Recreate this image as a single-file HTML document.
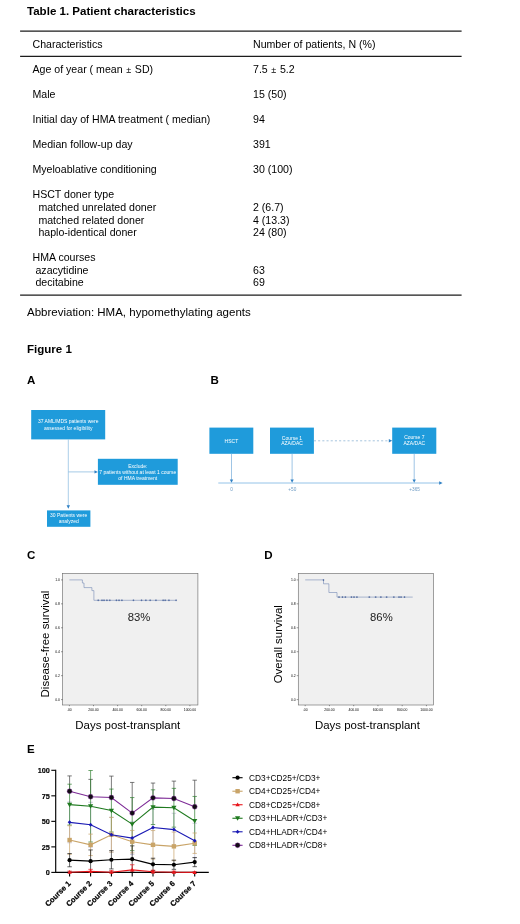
<!DOCTYPE html>
<html><head><meta charset="utf-8">
<style>
html,body{margin:0;padding:0;background:#fff;}
body{width:520px;height:924px;position:relative;overflow:hidden;will-change:transform;font-family:"Liberation Sans",sans-serif;color:#000;}
.t{position:absolute;white-space:pre;font-size:10.6px;line-height:13px;}
.b{font-weight:bold;}
.hl{position:absolute;left:20px;width:441.5px;height:1.4px;background:#1a1a1a;}
svg{position:absolute;left:0;top:0;}
</style></head><body>
<div class="t b" id='title' style="left:27px;top:4.50px;font-size:11.55px;">Table 1. Patient characteristics</div>
<div class="t" id='l0' style="left:32.5px;top:37.83px;font-size:10.6px;">Characteristics</div>
<div class="t" id='r0' style="left:253px;top:37.83px;font-size:10.6px;">Number of patients, N (%)</div>
<div class="t" id='l1' style="left:32.5px;top:62.83px;font-size:10.6px;">Age of year ( mean <span style="font-size:9px;margin:0 0.7px;position:relative;top:0.6px">±</span> SD)</div>
<div class="t" id='r1' style="left:253px;top:62.83px;font-size:10.6px;">7.5 <span style="font-size:9px;margin:0 0.7px;position:relative;top:0.6px">±</span> 5.2</div>
<div class="t" id='l2' style="left:32.5px;top:87.83px;font-size:10.6px;">Male</div>
<div class="t" id='r2' style="left:253px;top:87.83px;font-size:10.6px;">15 (50)</div>
<div class="t" id='l3' style="left:32.5px;top:112.83px;font-size:10.6px;">Initial day of HMA treatment ( median)</div>
<div class="t" id='r3' style="left:253px;top:112.83px;font-size:10.6px;">94</div>
<div class="t" id='l4' style="left:32.5px;top:137.83px;font-size:10.6px;">Median follow-up day</div>
<div class="t" id='r4' style="left:253px;top:137.83px;font-size:10.6px;">391</div>
<div class="t" id='l5' style="left:32.5px;top:162.83px;font-size:10.6px;">Myeloablative conditioning</div>
<div class="t" id='r5' style="left:253px;top:162.83px;font-size:10.6px;">30 (100)</div>
<div class="t" id='l6' style="left:32.5px;top:187.83px;font-size:10.6px;">HSCT doner type</div>
<div class="t" id='l7' style="left:32.5px;top:201.03px;font-size:10.6px;">&nbsp;&nbsp;matched unrelated doner</div>
<div class="t" id='r7' style="left:253px;top:201.03px;font-size:10.6px;">2 (6.7)</div>
<div class="t" id='l8' style="left:32.5px;top:213.63px;font-size:10.6px;">&nbsp;&nbsp;matched related doner</div>
<div class="t" id='r8' style="left:253px;top:213.63px;font-size:10.6px;">4 (13.3)</div>
<div class="t" id='l9' style="left:32.5px;top:226.13px;font-size:10.6px;">&nbsp;&nbsp;haplo-identical doner</div>
<div class="t" id='r9' style="left:253px;top:226.13px;font-size:10.6px;">24 (80)</div>
<div class="t" id='l10' style="left:32.5px;top:250.93px;font-size:10.6px;">HMA courses</div>
<div class="t" id='l11' style="left:32.5px;top:263.53px;font-size:10.6px;">&nbsp;azacytidine</div>
<div class="t" id='r11' style="left:253px;top:263.53px;font-size:10.6px;">63</div>
<div class="t" id='l12' style="left:32.5px;top:276.13px;font-size:10.6px;">&nbsp;decitabine</div>
<div class="t" id='r12' style="left:253px;top:276.13px;font-size:10.6px;">69</div>
<div class="t" id='abbr' style="left:27px;top:305.72px;font-size:11.5px;">Abbreviation: HMA, hypomethylating agents</div>
<div class="t b" id='fig' style="left:27px;top:342.50px;font-size:11.55px;">Figure 1</div>
<svg width="520" height="924" viewBox="0 0 520 924" font-family="Liberation Sans, sans-serif">
<text x="27" y="384" font-size="11.55" font-weight="bold" fill="#000">A</text>
<text x="210.5" y="384" font-size="11.55" font-weight="bold" fill="#000">B</text>
<text x="27" y="559" font-size="11.55" font-weight="bold" fill="#000">C</text>
<text x="264.2" y="559" font-size="11.55" font-weight="bold" fill="#000">D</text>
<text x="27" y="752.6" font-size="11.55" font-weight="bold" fill="#000">E</text>
<rect x="31.2" y="410" width="74.00" height="29.40" fill="#1f9bdb"/>
<text x="68.2" y="423.30" font-size="5.0" text-anchor="middle" fill="#fff">37 AML/MDS patients were</text>
<text x="68.2" y="429.60" font-size="5.0" text-anchor="middle" fill="#fff">assessed for eligibility</text>
<rect x="97.9" y="458.8" width="79.80" height="26.00" fill="#1f9bdb"/>
<text x="137.8" y="467.90" font-size="5.0" text-anchor="middle" fill="#fff">Exclude:</text>
<text x="137.8" y="473.80" font-size="5.0" text-anchor="middle" fill="#fff">7 patients without at least 1 course</text>
<text x="137.8" y="479.80" font-size="5.0" text-anchor="middle" fill="#fff">of HMA treatment</text>
<rect x="47" y="510.4" width="43.40" height="16.40" fill="#1f9bdb"/>
<text x="68.7" y="517.00" font-size="5.0" text-anchor="middle" fill="#fff">30 Patients were</text>
<text x="68.7" y="522.80" font-size="5.0" text-anchor="middle" fill="#fff">analyzed</text>
<line x1="68.3" y1="439.4" x2="68.3" y2="506.2" stroke="#8fbde0" stroke-width="0.75"/>
<path d="M66.6 505.3L70.0 505.3L68.3 508.7Z" fill="#2f80c4"/>
<line x1="68.3" y1="471.9" x2="95.4" y2="471.9" stroke="#8fbde0" stroke-width="0.8"/>
<path d="M94.5 470.2L94.5 473.59999999999997L97.9 471.9Z" fill="#2f80c4"/>
<rect x="209.4" y="427.6" width="43.90" height="26.20" fill="#1f9bdb"/>
<text x="231.4" y="442.60" font-size="5.0" text-anchor="middle" fill="#fff">HSCT</text>
<rect x="270" y="427.6" width="43.90" height="26.20" fill="#1f9bdb"/>
<text x="292" y="439.60" font-size="5.0" text-anchor="middle" fill="#fff">Course 1</text>
<text x="292" y="445.10" font-size="5.0" text-anchor="middle" fill="#fff">AZA/DAC</text>
<rect x="392.2" y="427.6" width="44.10" height="26.20" fill="#1f9bdb"/>
<text x="414.3" y="439.20" font-size="5.0" text-anchor="middle" fill="#fff">Course 7</text>
<text x="414.3" y="445.00" font-size="5.0" text-anchor="middle" fill="#fff">AZA/DAC</text>
<line x1="218.3" y1="483.0" x2="440.1" y2="483.0" stroke="#78b4e2" stroke-width="0.8"/>
<path d="M439.20000000000005 481.3L439.20000000000005 484.7L442.6 483.0Z" fill="#2f80c4"/>
<line x1="231.5" y1="453.8" x2="231.5" y2="480.3" stroke="#7fb2dc" stroke-width="0.75"/>
<path d="M229.8 479.40000000000003L233.2 479.40000000000003L231.5 482.8Z" fill="#2f80c4"/>
<line x1="292.1" y1="453.8" x2="292.1" y2="480.3" stroke="#7fb2dc" stroke-width="0.75"/>
<path d="M290.40000000000003 479.40000000000003L293.8 479.40000000000003L292.1 482.8Z" fill="#2f80c4"/>
<line x1="414.2" y1="453.8" x2="414.2" y2="480.3" stroke="#7fb2dc" stroke-width="0.75"/>
<path d="M412.5 479.40000000000003L415.9 479.40000000000003L414.2 482.8Z" fill="#2f80c4"/>
<line x1="313.9" y1="440.8" x2="389.7" y2="440.8" stroke="#8fb6d6" stroke-width="0.8" stroke-dasharray="2.1 2.1"/>
<path d="M388.8 439.1L388.8 442.5L392.2 440.8Z" fill="#2f80c4"/>
<text x="231.5" y="490.89" font-size="4.7" text-anchor="middle" fill="#6f9cc4">0</text>
<text x="292.3" y="490.89" font-size="4.7" text-anchor="middle" fill="#6f9cc4">+50</text>
<text x="414.6" y="490.89" font-size="4.7" text-anchor="middle" fill="#6f9cc4">+365</text>
<rect x="62.6" y="573.4" width="135.30" height="131.60" fill="#f0f0f0" stroke="#6e6e6e" stroke-width="0.65"/>
<line x1="61.0" y1="579.90" x2="62.6" y2="579.90" stroke="#333" stroke-width="0.5"/>
<text x="60.0" y="581.05" font-size="3.4" text-anchor="end" fill="#000">1.0</text>
<line x1="61.0" y1="603.84" x2="62.6" y2="603.84" stroke="#333" stroke-width="0.5"/>
<text x="60.0" y="604.99" font-size="3.4" text-anchor="end" fill="#000">0.8</text>
<line x1="61.0" y1="627.78" x2="62.6" y2="627.78" stroke="#333" stroke-width="0.5"/>
<text x="60.0" y="628.93" font-size="3.4" text-anchor="end" fill="#000">0.6</text>
<line x1="61.0" y1="651.72" x2="62.6" y2="651.72" stroke="#333" stroke-width="0.5"/>
<text x="60.0" y="652.87" font-size="3.4" text-anchor="end" fill="#000">0.4</text>
<line x1="61.0" y1="675.66" x2="62.6" y2="675.66" stroke="#333" stroke-width="0.5"/>
<text x="60.0" y="676.81" font-size="3.4" text-anchor="end" fill="#000">0.2</text>
<line x1="61.0" y1="699.60" x2="62.6" y2="699.60" stroke="#333" stroke-width="0.5"/>
<text x="60.0" y="700.75" font-size="3.4" text-anchor="end" fill="#000">0.0</text>
<line x1="69.40" y1="705.0" x2="69.40" y2="706.2" stroke="#333" stroke-width="0.5"/>
<text x="69.40" y="711.20" font-size="3.4" text-anchor="middle" fill="#000">.00</text>
<line x1="93.50" y1="705.0" x2="93.50" y2="706.2" stroke="#333" stroke-width="0.5"/>
<text x="93.50" y="711.20" font-size="3.4" text-anchor="middle" fill="#000">200.00</text>
<line x1="117.60" y1="705.0" x2="117.60" y2="706.2" stroke="#333" stroke-width="0.5"/>
<text x="117.60" y="711.20" font-size="3.4" text-anchor="middle" fill="#000">400.00</text>
<line x1="141.70" y1="705.0" x2="141.70" y2="706.2" stroke="#333" stroke-width="0.5"/>
<text x="141.70" y="711.20" font-size="3.4" text-anchor="middle" fill="#000">600.00</text>
<line x1="165.80" y1="705.0" x2="165.80" y2="706.2" stroke="#333" stroke-width="0.5"/>
<text x="165.80" y="711.20" font-size="3.4" text-anchor="middle" fill="#000">800.00</text>
<line x1="189.90" y1="705.0" x2="189.90" y2="706.2" stroke="#333" stroke-width="0.5"/>
<text x="189.90" y="711.20" font-size="3.4" text-anchor="middle" fill="#000">1000.00</text>
<path d="M69.4 579.9H82.4V583.0H84.0V587.6H91.9V590.6H93.9V600.3H176.2" fill="none" stroke="#7389b6" stroke-width="0.6"/>
<path d="M97.36507066628208 600.3H99.16507066628209M98.26507066628209 599.4V601.1999999999999" stroke="#34508f" stroke-width="0.55"/>
<path d="M101.11471012402653 600.3H102.91471012402654M102.01471012402654 599.4V601.1999999999999" stroke="#34508f" stroke-width="0.55"/>
<path d="M103.13374675511969 600.3H104.9337467551197M104.0337467551197 599.4V601.1999999999999" stroke="#34508f" stroke-width="0.55"/>
<path d="M106.0180847995385 600.3H107.81808479953851M106.9180847995385 599.4V601.1999999999999" stroke="#34508f" stroke-width="0.55"/>
<path d="M108.90242284395731 600.3H110.70242284395732M109.80242284395732 599.4V601.1999999999999" stroke="#34508f" stroke-width="0.55"/>
<path d="M115.53640034612056 600.3H117.33640034612057M116.43640034612056 599.4V601.1999999999999" stroke="#34508f" stroke-width="0.55"/>
<path d="M118.13230458609749 600.3H119.9323045860975M119.0323045860975 599.4V601.1999999999999" stroke="#34508f" stroke-width="0.55"/>
<path d="M121.01664263051629 600.3H122.8166426305163M121.9166426305163 599.4V601.1999999999999" stroke="#34508f" stroke-width="0.55"/>
<path d="M132.5539948081915 600.3H134.35399480819152M133.4539948081915 599.4V601.1999999999999" stroke="#34508f" stroke-width="0.55"/>
<path d="M140.63014133256416 600.3H142.43014133256418M141.53014133256417 599.4V601.1999999999999" stroke="#34508f" stroke-width="0.55"/>
<path d="M144.95664839919237 600.3H146.7566483991924M145.85664839919238 599.4V601.1999999999999" stroke="#34508f" stroke-width="0.55"/>
<path d="M149.28315546582058 600.3H151.0831554658206M150.1831554658206 599.4V601.1999999999999" stroke="#34508f" stroke-width="0.55"/>
<path d="M155.0518315546582 600.3H156.85183155465822M155.9518315546582 599.4V601.1999999999999" stroke="#34508f" stroke-width="0.55"/>
<path d="M162.26267666570521 600.3H164.06267666570523M163.16267666570522 599.4V601.1999999999999" stroke="#34508f" stroke-width="0.55"/>
<path d="M164.28171329679836 600.3H166.08171329679837M165.18171329679836 599.4V601.1999999999999" stroke="#34508f" stroke-width="0.55"/>
<path d="M168.03135275454284 600.3H169.83135275454285M168.93135275454284 599.4V601.1999999999999" stroke="#34508f" stroke-width="0.55"/>
<path d="M175.24219786558984 600.3H177.04219786558986M176.14219786558985 599.4V601.1999999999999" stroke="#34508f" stroke-width="0.55"/>
<text transform="translate(48.8 644) rotate(-90)" font-size="11.45" text-anchor="middle" fill="#000">Disease-free survival</text>
<text x="127.8" y="729" font-size="11.45" text-anchor="middle" fill="#000">Days post-transplant</text>
<text x="139.1" y="620.8" font-size="11.3" text-anchor="middle" fill="#222">83%</text>
<rect x="298.3" y="573.4" width="135.10" height="131.60" fill="#f0f0f0" stroke="#6e6e6e" stroke-width="0.65"/>
<line x1="296.7" y1="579.90" x2="298.3" y2="579.90" stroke="#333" stroke-width="0.5"/>
<text x="295.7" y="581.05" font-size="3.4" text-anchor="end" fill="#000">1.0</text>
<line x1="296.7" y1="603.84" x2="298.3" y2="603.84" stroke="#333" stroke-width="0.5"/>
<text x="295.7" y="604.99" font-size="3.4" text-anchor="end" fill="#000">0.8</text>
<line x1="296.7" y1="627.78" x2="298.3" y2="627.78" stroke="#333" stroke-width="0.5"/>
<text x="295.7" y="628.93" font-size="3.4" text-anchor="end" fill="#000">0.6</text>
<line x1="296.7" y1="651.72" x2="298.3" y2="651.72" stroke="#333" stroke-width="0.5"/>
<text x="295.7" y="652.87" font-size="3.4" text-anchor="end" fill="#000">0.4</text>
<line x1="296.7" y1="675.66" x2="298.3" y2="675.66" stroke="#333" stroke-width="0.5"/>
<text x="295.7" y="676.81" font-size="3.4" text-anchor="end" fill="#000">0.2</text>
<line x1="296.7" y1="699.60" x2="298.3" y2="699.60" stroke="#333" stroke-width="0.5"/>
<text x="295.7" y="700.75" font-size="3.4" text-anchor="end" fill="#000">0.0</text>
<line x1="305.20" y1="705.0" x2="305.20" y2="706.2" stroke="#333" stroke-width="0.5"/>
<text x="305.20" y="711.20" font-size="3.4" text-anchor="middle" fill="#000">.00</text>
<line x1="329.45" y1="705.0" x2="329.45" y2="706.2" stroke="#333" stroke-width="0.5"/>
<text x="329.45" y="711.20" font-size="3.4" text-anchor="middle" fill="#000">200.00</text>
<line x1="353.70" y1="705.0" x2="353.70" y2="706.2" stroke="#333" stroke-width="0.5"/>
<text x="353.70" y="711.20" font-size="3.4" text-anchor="middle" fill="#000">400.00</text>
<line x1="377.95" y1="705.0" x2="377.95" y2="706.2" stroke="#333" stroke-width="0.5"/>
<text x="377.95" y="711.20" font-size="3.4" text-anchor="middle" fill="#000">600.00</text>
<line x1="402.20" y1="705.0" x2="402.20" y2="706.2" stroke="#333" stroke-width="0.5"/>
<text x="402.20" y="711.20" font-size="3.4" text-anchor="middle" fill="#000">800.00</text>
<line x1="426.45" y1="705.0" x2="426.45" y2="706.2" stroke="#333" stroke-width="0.5"/>
<text x="426.45" y="711.20" font-size="3.4" text-anchor="middle" fill="#000">1000.00</text>
<path d="M305.2 579.9H323.5V583.8H328.9V592.5H337.0V597.1H412.7" fill="none" stroke="#7389b6" stroke-width="0.6"/>
<path d="M322.6 580.0H324.4M323.5 579.1V580.9" stroke="#34508f" stroke-width="0.55"/>
<path d="M338.1337467551197 597.1H339.93374675511967M339.0337467551197 596.2V598.0" stroke="#34508f" stroke-width="0.55"/>
<path d="M341.5949524084223 597.1H343.3949524084222M342.49495240842225 596.2V598.0" stroke="#34508f" stroke-width="0.55"/>
<path d="M344.4792904528411 597.1H346.27929045284105M345.3792904528411 596.2V598.0" stroke="#34508f" stroke-width="0.55"/>
<path d="M350.53640034612056 597.1H352.3364003461205M351.43640034612054 596.2V598.0" stroke="#34508f" stroke-width="0.55"/>
<path d="M353.1323045860975 597.1H354.9323045860975M354.0323045860975 596.2V598.0" stroke="#34508f" stroke-width="0.55"/>
<path d="M356.01664263051634 597.1H357.8166426305163M356.9166426305163 596.2V598.0" stroke="#34508f" stroke-width="0.55"/>
<path d="M368.4192962215172 597.1H370.21929622151714M369.31929622151716 596.2V598.0" stroke="#34508f" stroke-width="0.55"/>
<path d="M374.76483991923857 597.1H376.5648399192385M375.66483991923855 596.2V598.0" stroke="#34508f" stroke-width="0.55"/>
<path d="M379.95664839919243 597.1H381.7566483991924M380.8566483991924 596.2V598.0" stroke="#34508f" stroke-width="0.55"/>
<path d="M385.72532448803 597.1H387.52532448803M386.62532448803 596.2V598.0" stroke="#34508f" stroke-width="0.55"/>
<path d="M392.93616959907706 597.1H394.736169599077M393.83616959907704 596.2V598.0" stroke="#34508f" stroke-width="0.55"/>
<path d="M398.12797807903087 597.1H399.9279780790308M399.02797807903085 596.2V598.0" stroke="#34508f" stroke-width="0.55"/>
<path d="M400.14701471012404 597.1H401.947014710124M401.047014710124 596.2V598.0" stroke="#34508f" stroke-width="0.55"/>
<path d="M403.6082203634266 597.1H405.40822036342655M404.5082203634266 596.2V598.0" stroke="#34508f" stroke-width="0.55"/>
<text transform="translate(281.5 644.2) rotate(-90)" font-size="11.45" text-anchor="middle" fill="#000">Overall survival</text>
<text x="367.4" y="729" font-size="11.45" text-anchor="middle" fill="#000">Days post-transplant</text>
<text x="381.4" y="620.8" font-size="11.3" text-anchor="middle" fill="#222">86%</text>
<path d="M67.39999999999999 801.95H71.8M69.6 801.95V842.79M67.39999999999999 842.79H71.8" stroke="#b9b9d2" stroke-width="0.7" fill="none"/>
<path d="M88.39999999999999 802.26H92.8M90.6 802.26V847.18M88.39999999999999 847.18H92.8" stroke="#b9b9d2" stroke-width="0.7" fill="none"/>
<path d="M109.2 817.37H113.60000000000001M111.4 817.37V852.08M109.2 852.08H113.60000000000001" stroke="#b9b9d2" stroke-width="0.7" fill="none"/>
<path d="M130.0 821.76H134.39999999999998M132.2 821.76V854.43M130.0 854.43H134.39999999999998" stroke="#b9b9d2" stroke-width="0.7" fill="none"/>
<path d="M150.8 809.10H155.2M153.0 809.10V845.85M150.8 845.85H155.2" stroke="#b9b9d2" stroke-width="0.7" fill="none"/>
<path d="M171.70000000000002 813.28H176.1M173.9 813.28V845.96M171.70000000000002 845.96H176.1" stroke="#b9b9d2" stroke-width="0.7" fill="none"/>
<path d="M192.5 823.29H196.89999999999998M194.7 823.29V858.00M192.5 858.00H196.89999999999998" stroke="#b9b9d2" stroke-width="0.7" fill="none"/>
<path d="M67.39999999999999 775.92H71.8M69.6 775.92V791.23" stroke="#444" stroke-width="0.7" fill="none"/>
<path d="M88.39999999999999 779.39H92.8M90.6 779.39V796.74" stroke="#444" stroke-width="0.7" fill="none"/>
<path d="M109.2 776.12H113.60000000000001M111.4 776.12V797.56" stroke="#444" stroke-width="0.7" fill="none"/>
<path d="M130.0 782.45H134.39999999999998M132.2 782.45V813.08" stroke="#444" stroke-width="0.7" fill="none"/>
<path d="M150.8 783.06H155.2M153.0 783.06V797.87" stroke="#444" stroke-width="0.7" fill="none"/>
<path d="M171.70000000000002 781.12H176.1M173.9 781.12V798.48" stroke="#444" stroke-width="0.7" fill="none"/>
<path d="M192.5 780.20H196.89999999999998M194.7 780.20V806.75" stroke="#444" stroke-width="0.7" fill="none"/>
<path d="M67.39999999999999 784.19H71.8M69.6 784.19V825.03M67.39999999999999 825.03H71.8" stroke="#2f7f2f" stroke-width="0.7" fill="none"/>
<path d="M88.39999999999999 770.50H92.8M90.6 770.50V841.97M88.39999999999999 841.97H92.8" stroke="#2f7f2f" stroke-width="0.7" fill="none"/>
<path d="M109.2 789.09H113.60000000000001M111.4 789.09V831.97M109.2 831.97H113.60000000000001" stroke="#2f7f2f" stroke-width="0.7" fill="none"/>
<path d="M130.0 797.56H134.39999999999998M132.2 797.56V850.65M130.0 850.65H134.39999999999998" stroke="#2f7f2f" stroke-width="0.7" fill="none"/>
<path d="M150.8 789.80H155.2M153.0 789.80V824.52M150.8 824.52H155.2" stroke="#2f7f2f" stroke-width="0.7" fill="none"/>
<path d="M171.70000000000002 788.37H176.1M173.9 788.37V827.17M171.70000000000002 827.17H176.1" stroke="#2f7f2f" stroke-width="0.7" fill="none"/>
<path d="M192.5 796.44H196.89999999999998M194.7 796.44V845.45M192.5 845.45H196.89999999999998" stroke="#2f7f2f" stroke-width="0.7" fill="none"/>
<path d="M67.39999999999999 825.74H71.8M69.6 825.74V854.33M67.39999999999999 854.33H71.8" stroke="#c9a468" stroke-width="0.7" fill="none"/>
<path d="M88.39999999999999 834.11H92.8M90.6 834.11V855.55M88.39999999999999 855.55H92.8" stroke="#c9a468" stroke-width="0.7" fill="none"/>
<path d="M109.2 817.37H113.60000000000001M111.4 817.37V852.08M109.2 852.08H113.60000000000001" stroke="#c9a468" stroke-width="0.7" fill="none"/>
<path d="M130.0 830.44H134.39999999999998M132.2 830.44V852.90M130.0 852.90H134.39999999999998" stroke="#c9a468" stroke-width="0.7" fill="none"/>
<path d="M150.8 830.54H155.2M153.0 830.54V859.13M150.8 859.13H155.2" stroke="#c9a468" stroke-width="0.7" fill="none"/>
<path d="M171.70000000000002 832.07H176.1M173.9 832.07V860.66M171.70000000000002 860.66H176.1" stroke="#c9a468" stroke-width="0.7" fill="none"/>
<path d="M192.5 832.99H196.89999999999998M194.7 832.99V853.41M192.5 853.41H196.89999999999998" stroke="#c9a468" stroke-width="0.7" fill="none"/>
<path d="M67.39999999999999 853.51H71.8M69.6 853.51V866.78M67.39999999999999 866.78H71.8" stroke="#222" stroke-width="0.7" fill="none"/>
<path d="M88.39999999999999 849.94H92.8M90.6 849.94V872.40M88.39999999999999 872.40H92.8" stroke="#222" stroke-width="0.7" fill="none"/>
<path d="M109.2 850.55H113.60000000000001M111.4 850.55V868.93M109.2 868.93H113.60000000000001" stroke="#222" stroke-width="0.7" fill="none"/>
<path d="M130.0 845.85H134.39999999999998M132.2 845.85V872.40M130.0 872.40H134.39999999999998" stroke="#222" stroke-width="0.7" fill="none"/>
<path d="M150.8 858.21H155.2M153.0 858.21V870.46M150.8 870.46H155.2" stroke="#222" stroke-width="0.7" fill="none"/>
<path d="M171.70000000000002 860.15H176.1M173.9 860.15V869.34M171.70000000000002 869.34H176.1" stroke="#222" stroke-width="0.7" fill="none"/>
<path d="M192.5 857.49H196.89999999999998M194.7 857.49V866.68M192.5 866.68H196.89999999999998" stroke="#222" stroke-width="0.7" fill="none"/>
<path d="M67.39999999999999 871.17H71.8M69.6 871.17V872.40M67.39999999999999 872.40H71.8" stroke="#e8151b" stroke-width="0.7" fill="none"/>
<path d="M88.39999999999999 869.34H92.8M90.6 869.34V872.40M88.39999999999999 872.40H92.8" stroke="#e8151b" stroke-width="0.7" fill="none"/>
<path d="M109.2 870.66H113.60000000000001M111.4 870.66V872.40M109.2 872.40H113.60000000000001" stroke="#e8151b" stroke-width="0.7" fill="none"/>
<path d="M130.0 864.74H134.39999999999998M132.2 864.74V872.40M130.0 872.40H134.39999999999998" stroke="#e8151b" stroke-width="0.7" fill="none"/>
<path d="M150.8 870.26H155.2M153.0 870.26V872.40M150.8 872.40H155.2" stroke="#e8151b" stroke-width="0.7" fill="none"/>
<path d="M171.70000000000002 871.17H176.1M173.9 871.17V872.40M171.70000000000002 872.40H176.1" stroke="#e8151b" stroke-width="0.7" fill="none"/>
<path d="M192.5 871.89H196.89999999999998M194.7 871.89V872.40M192.5 872.40H196.89999999999998" stroke="#e8151b" stroke-width="0.7" fill="none"/>
<path d="M55.7 769.80V872.4H208.8" stroke="#000" stroke-width="1.15" fill="none"/>
<line x1="51.300000000000004" y1="872.40" x2="55.7" y2="872.40" stroke="#000" stroke-width="1.1"/>
<text x="49.900000000000006" y="875.10" font-size="7.3" font-weight="bold" text-anchor="end" fill="#000" stroke="#000" stroke-width="0.15">0</text>
<line x1="51.300000000000004" y1="846.88" x2="55.7" y2="846.88" stroke="#000" stroke-width="1.1"/>
<text x="49.900000000000006" y="849.58" font-size="7.3" font-weight="bold" text-anchor="end" fill="#000" stroke="#000" stroke-width="0.15">25</text>
<line x1="51.300000000000004" y1="821.35" x2="55.7" y2="821.35" stroke="#000" stroke-width="1.1"/>
<text x="49.900000000000006" y="824.05" font-size="7.3" font-weight="bold" text-anchor="end" fill="#000" stroke="#000" stroke-width="0.15">50</text>
<line x1="51.300000000000004" y1="795.83" x2="55.7" y2="795.83" stroke="#000" stroke-width="1.1"/>
<text x="49.900000000000006" y="798.53" font-size="7.3" font-weight="bold" text-anchor="end" fill="#000" stroke="#000" stroke-width="0.15">75</text>
<line x1="51.300000000000004" y1="770.30" x2="55.7" y2="770.30" stroke="#000" stroke-width="1.1"/>
<text x="49.900000000000006" y="773.00" font-size="7.3" font-weight="bold" text-anchor="end" fill="#000" stroke="#000" stroke-width="0.15">100</text>
<line x1="69.6" y1="872.4" x2="69.6" y2="876.4" stroke="#000" stroke-width="1.1"/>
<text transform="translate(71.3 884.00) rotate(-45)" font-size="7.65" font-weight="bold" text-anchor="end" fill="#000" stroke="#000" stroke-width="0.2">Course 1</text>
<line x1="90.6" y1="872.4" x2="90.6" y2="876.4" stroke="#000" stroke-width="1.1"/>
<text transform="translate(92.3 884.00) rotate(-45)" font-size="7.65" font-weight="bold" text-anchor="end" fill="#000" stroke="#000" stroke-width="0.2">Course 2</text>
<line x1="111.4" y1="872.4" x2="111.4" y2="876.4" stroke="#000" stroke-width="1.1"/>
<text transform="translate(113.10000000000001 884.00) rotate(-45)" font-size="7.65" font-weight="bold" text-anchor="end" fill="#000" stroke="#000" stroke-width="0.2">Course 3</text>
<line x1="132.2" y1="872.4" x2="132.2" y2="876.4" stroke="#000" stroke-width="1.1"/>
<text transform="translate(133.89999999999998 884.00) rotate(-45)" font-size="7.65" font-weight="bold" text-anchor="end" fill="#000" stroke="#000" stroke-width="0.2">Course 4</text>
<line x1="153.0" y1="872.4" x2="153.0" y2="876.4" stroke="#000" stroke-width="1.1"/>
<text transform="translate(154.7 884.00) rotate(-45)" font-size="7.65" font-weight="bold" text-anchor="end" fill="#000" stroke="#000" stroke-width="0.2">Course 5</text>
<line x1="173.9" y1="872.4" x2="173.9" y2="876.4" stroke="#000" stroke-width="1.1"/>
<text transform="translate(175.6 884.00) rotate(-45)" font-size="7.65" font-weight="bold" text-anchor="end" fill="#000" stroke="#000" stroke-width="0.2">Course 6</text>
<line x1="194.7" y1="872.4" x2="194.7" y2="876.4" stroke="#000" stroke-width="1.1"/>
<text transform="translate(196.39999999999998 884.00) rotate(-45)" font-size="7.65" font-weight="bold" text-anchor="end" fill="#000" stroke="#000" stroke-width="0.2">Course 7</text>
<polyline points="69.6,860.15 90.6,861.17 111.4,859.74 132.2,859.13 153.0,864.33 173.9,864.74 194.7,862.09" fill="none" stroke="#000000" stroke-width="1.1"/>
<circle cx="69.6" cy="860.15" r="2.1" fill="#000"/>
<circle cx="90.6" cy="861.17" r="2.1" fill="#000"/>
<circle cx="111.4" cy="859.74" r="2.1" fill="#000"/>
<circle cx="132.2" cy="859.13" r="2.1" fill="#000"/>
<circle cx="153.0" cy="864.33" r="2.1" fill="#000"/>
<circle cx="173.9" cy="864.74" r="2.1" fill="#000"/>
<circle cx="194.7" cy="862.09" r="2.1" fill="#000"/>
<polyline points="69.6,840.03 90.6,844.83 111.4,834.73 132.2,841.67 153.0,844.83 173.9,846.36 194.7,843.20" fill="none" stroke="#c9a468" stroke-width="1.1"/>
<rect x="67.39999999999999" y="837.83" width="4.4" height="4.4" fill="#c9a468"/>
<rect x="88.39999999999999" y="842.63" width="4.4" height="4.4" fill="#c9a468"/>
<rect x="109.2" y="832.53" width="4.4" height="4.4" fill="#c9a468"/>
<rect x="130.0" y="839.47" width="4.4" height="4.4" fill="#c9a468"/>
<rect x="150.8" y="842.63" width="4.4" height="4.4" fill="#c9a468"/>
<rect x="171.70000000000002" y="844.16" width="4.4" height="4.4" fill="#c9a468"/>
<rect x="192.5" y="841.00" width="4.4" height="4.4" fill="#c9a468"/>
<polyline points="69.6,872.20 90.6,871.38 111.4,872.20 132.2,869.85 153.0,871.79 173.9,872.20 194.7,872.40" fill="none" stroke="#e8151b" stroke-width="1.1"/>
<path d="M67.39999999999999 873.80L71.8 873.80L69.6 870.00Z" fill="#e8151b"/>
<path d="M88.39999999999999 872.98L92.8 872.98L90.6 869.18Z" fill="#e8151b"/>
<path d="M109.2 873.80L113.60000000000001 873.80L111.4 870.00Z" fill="#e8151b"/>
<path d="M130.0 871.45L134.39999999999998 871.45L132.2 867.65Z" fill="#e8151b"/>
<path d="M150.8 873.39L155.2 873.39L153.0 869.59Z" fill="#e8151b"/>
<path d="M171.70000000000002 873.80L176.1 873.80L173.9 870.00Z" fill="#e8151b"/>
<path d="M192.5 874.00L196.89999999999998 874.00L194.7 870.20Z" fill="#e8151b"/>
<polyline points="69.6,804.61 90.6,806.24 111.4,810.53 132.2,824.11 153.0,807.16 173.9,807.77 194.7,820.94" fill="none" stroke="#1f7a1f" stroke-width="1.1"/>
<path d="M67.0 802.71L72.19999999999999 802.71L69.6 807.21Z" fill="#1f7a1f"/>
<path d="M88.0 804.34L93.19999999999999 804.34L90.6 808.84Z" fill="#1f7a1f"/>
<path d="M108.80000000000001 808.63L114.0 808.63L111.4 813.13Z" fill="#1f7a1f"/>
<path d="M129.6 822.21L134.79999999999998 822.21L132.2 826.71Z" fill="#1f7a1f"/>
<path d="M150.4 805.26L155.6 805.26L153.0 809.76Z" fill="#1f7a1f"/>
<path d="M171.3 805.87L176.5 805.87L173.9 810.37Z" fill="#1f7a1f"/>
<path d="M192.1 819.04L197.29999999999998 819.04L194.7 823.54Z" fill="#1f7a1f"/>
<polyline points="69.6,822.37 90.6,824.72 111.4,834.73 132.2,838.09 153.0,827.48 173.9,829.62 194.7,840.65" fill="none" stroke="#1a1ab4" stroke-width="1.1"/>
<path d="M67.69999999999999 822.37L69.6 820.37L71.5 822.37L69.6 824.37Z" fill="#1a1ab4"/>
<path d="M88.69999999999999 824.72L90.6 822.72L92.5 824.72L90.6 826.72Z" fill="#1a1ab4"/>
<path d="M109.5 834.73L111.4 832.73L113.30000000000001 834.73L111.4 836.73Z" fill="#1a1ab4"/>
<path d="M130.29999999999998 838.09L132.2 836.09L134.1 838.09L132.2 840.09Z" fill="#1a1ab4"/>
<path d="M151.1 827.48L153.0 825.48L154.9 827.48L153.0 829.48Z" fill="#1a1ab4"/>
<path d="M172.0 829.62L173.9 827.62L175.8 829.62L173.9 831.62Z" fill="#1a1ab4"/>
<path d="M192.79999999999998 840.65L194.7 838.65L196.6 840.65L194.7 842.65Z" fill="#1a1ab4"/>
<polyline points="69.6,791.23 90.6,796.74 111.4,797.56 132.2,813.08 153.0,797.87 173.9,798.48 194.7,806.75" fill="none" stroke="#7d2a96" stroke-width="1.1"/>
<circle cx="69.6" cy="791.23" r="2.45" fill="#120c14" stroke="#7d2a96" stroke-width="0.45"/>
<circle cx="90.6" cy="796.74" r="2.45" fill="#120c14" stroke="#7d2a96" stroke-width="0.45"/>
<circle cx="111.4" cy="797.56" r="2.45" fill="#120c14" stroke="#7d2a96" stroke-width="0.45"/>
<circle cx="132.2" cy="813.08" r="2.45" fill="#120c14" stroke="#7d2a96" stroke-width="0.45"/>
<circle cx="153.0" cy="797.87" r="2.45" fill="#120c14" stroke="#7d2a96" stroke-width="0.45"/>
<circle cx="173.9" cy="798.48" r="2.45" fill="#120c14" stroke="#7d2a96" stroke-width="0.45"/>
<circle cx="194.7" cy="806.75" r="2.45" fill="#120c14" stroke="#7d2a96" stroke-width="0.45"/>
<line x1="232.4" y1="777.70" x2="242.6" y2="777.70" stroke="#000000" stroke-width="1.1"/>
<circle cx="237.6" cy="777.70" r="2.1" fill="#000"/>
<text x="249.1" y="780.55" font-size="8.3" fill="#000">CD3+CD25+/CD3+</text>
<line x1="232.4" y1="791.22" x2="242.6" y2="791.22" stroke="#c9a468" stroke-width="1.1"/>
<rect x="235.4" y="789.02" width="4.4" height="4.4" fill="#c9a468"/>
<text x="249.1" y="794.07" font-size="8.3" fill="#000">CD4+CD25+/CD4+</text>
<line x1="232.4" y1="804.74" x2="242.6" y2="804.74" stroke="#e8151b" stroke-width="1.1"/>
<path d="M235.4 806.34L239.79999999999998 806.34L237.6 802.54Z" fill="#e8151b"/>
<text x="249.1" y="807.59" font-size="8.3" fill="#000">CD8+CD25+/CD8+</text>
<line x1="232.4" y1="818.26" x2="242.6" y2="818.26" stroke="#1f7a1f" stroke-width="1.1"/>
<path d="M235.0 816.36L240.2 816.36L237.6 820.86Z" fill="#1f7a1f"/>
<text x="249.1" y="821.11" font-size="8.3" fill="#000">CD3+HLADR+/CD3+</text>
<line x1="232.4" y1="831.78" x2="242.6" y2="831.78" stroke="#1a1ab4" stroke-width="1.1"/>
<path d="M235.7 831.78L237.6 829.78L239.5 831.78L237.6 833.78Z" fill="#1a1ab4"/>
<text x="249.1" y="834.63" font-size="8.3" fill="#000">CD4+HLADR+/CD4+</text>
<line x1="232.4" y1="845.30" x2="242.6" y2="845.30" stroke="#7d2a96" stroke-width="1.1"/>
<circle cx="237.6" cy="845.30" r="2.45" fill="#120c14" stroke="#7d2a96" stroke-width="0.45"/>
<text x="249.1" y="848.15" font-size="8.3" fill="#000">CD8+HLADR+/CD8+</text>
<line x1="20.1" y1="31.2" x2="461.6" y2="31.2" stroke="#1c1c1c" stroke-width="1.2"/>
<line x1="20.1" y1="56.3" x2="461.6" y2="56.3" stroke="#1c1c1c" stroke-width="1.2"/>
<line x1="20.1" y1="295.2" x2="461.6" y2="295.2" stroke="#1c1c1c" stroke-width="1.2"/>
</svg>
</body></html>
